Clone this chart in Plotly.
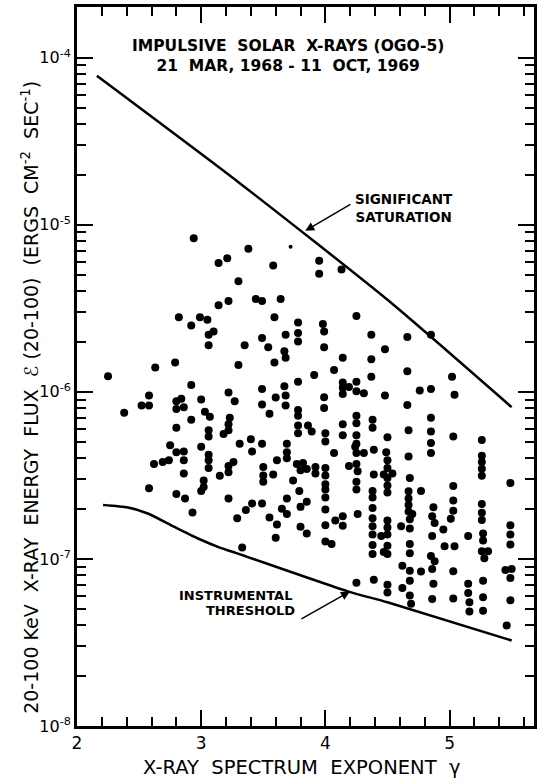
import plotly.graph_objects as go

# ---- data ----
gamma = [
    2.94, 3.14, 3.21, 3.30, 3.14, 3.22, 2.82, 2.92, 2.99, 3.05, 3.10, 3.06, 3.06, 2.79, 2.63, 2.25,
    3.30, 2.92, 2.58, 2.52, 2.58, 2.38, 2.80, 2.84, 2.80, 2.86, 3.00, 3.22, 3.27, 3.03, 3.07, 2.92,
    3.23, 3.22, 3.22, 2.80, 3.06, 3.06, 3.18, 2.75, 3.00, 2.80, 2.86, 2.86, 3.06, 3.06, 3.06, 2.62,
    2.69, 2.74, 3.22, 3.26, 3.22, 2.86, 3.15, 3.02, 3.02, 3.00, 2.58, 2.80, 2.87, 3.22, 2.93, 3.29,
    3.31, 3.38, 3.58, 3.95, 3.95, 4.13, 3.44, 3.49, 3.64, 3.59, 3.78, 3.98, 3.99, 4.25, 3.78, 3.78,
    3.68, 3.49, 3.54, 3.35, 3.67, 3.68, 3.99, 4.37, 4.48, 4.14, 4.37, 3.59, 4.07, 3.91, 4.37, 3.78,
    4.14, 4.19, 4.25, 4.14, 4.14, 4.25, 4.31, 3.67, 3.49, 3.60, 3.68, 3.68, 3.99, 3.99, 3.49, 3.55,
    3.78, 3.78, 4.48, 4.25, 4.38, 4.25, 4.38, 4.14, 3.78, 3.78, 3.86, 3.89, 4.00, 4.00, 4.14, 4.25,
    4.25, 4.24, 4.25, 4.31, 3.40, 3.41, 3.49, 3.69, 3.69, 3.69, 4.07, 4.39, 3.61, 3.50, 3.50, 3.50,
    3.58, 3.77, 3.82, 3.80, 3.85, 3.92, 3.92, 4.00, 4.00, 4.00, 4.00, 4.00, 3.74, 4.19, 4.25, 4.26,
    4.25, 4.25, 4.39, 3.79, 3.69, 3.85, 3.80, 3.49, 3.41, 3.36, 3.65, 3.69, 3.55, 3.61, 4.00, 4.38,
    4.38, 4.38, 4.26, 4.08, 4.14, 4.14, 4.00, 3.80, 3.85, 3.60, 4.00, 4.05, 3.33, 4.38, 4.38, 4.38,
    4.38, 4.38, 4.25, 4.39, 4.50, 4.49, 4.50, 4.50, 4.47, 4.54, 4.50, 4.50, 4.50, 4.50, 4.50, 4.50,
    4.45, 4.50, 4.47, 4.50, 4.50, 4.50, 4.62, 4.61, 4.62, 4.67, 4.67, 4.68, 4.67, 4.67, 4.67, 4.67,
    4.70, 4.68, 4.68, 4.68, 4.68, 4.68, 4.68, 4.68, 4.69, 4.77, 4.77, 4.85, 4.85, 4.85, 4.85, 4.87,
    4.86, 4.88, 4.86, 4.85, 4.88, 4.86, 4.87, 4.86, 4.95, 4.96, 5.04, 5.03, 5.03, 5.03, 5.03, 5.01,
    5.03, 5.03, 5.15, 5.15, 5.15, 5.16, 5.16, 5.26, 5.26, 5.26, 5.26, 5.26, 5.26, 5.26, 5.26, 5.27,
    5.27, 5.26, 5.31, 5.28, 5.27, 5.27, 5.27, 5.49, 5.49, 5.49, 5.49, 5.45, 5.50, 5.49, 5.49, 5.46,
    4.66, 4.85, 4.66, 5.02, 4.76, 4.85, 5.04, 4.66,
]
flux = [
    8.3e-6, 5.9e-6, 6.3e-6, 4.6e-6, 3.3e-6, 3.5e-6, 2.8e-6, 2.5e-6, 2.8e-6, 2.7e-6, 2.3e-6, 2.2e-6, 1.9e-6, 1.5e-6, 1.4e-6, 1.24e-6,
    1.45e-6, 1.1e-6, 9.5e-7, 8.3e-7, 8.3e-7, 7.5e-7, 8.8e-7, 9.1e-7, 7.9e-7, 8.1e-7, 9.0e-7, 9.9e-7, 8.8e-7, 7.6e-7, 7.1e-7, 6.8e-7,
    7.0e-7, 6.4e-7, 5.9e-7, 6.1e-7, 5.9e-7, 5.4e-7, 5.6e-7, 4.8e-7, 4.7e-7, 4.35e-7, 4.4e-7, 3.9e-7, 4.2e-7, 3.9e-7, 3.5e-7, 3.7e-7,
    3.8e-7, 3.9e-7, 3.6e-7, 3.8e-7, 3.3e-7, 3.25e-7, 3.15e-7, 2.95e-7, 2.7e-7, 2.55e-7, 2.65e-7, 2.45e-7, 2.3e-7, 2.3e-7, 1.9e-7, 1.75e-7,
    4.9e-7, 7.2e-6, 5.7e-6, 6.1e-6, 5.1e-6, 5.4e-6, 3.6e-6, 3.5e-6, 3.6e-6, 2.8e-6, 2.6e-6, 2.55e-6, 2.3e-6, 2.85e-6, 2.25e-6, 2.0e-6,
    2.2e-6, 2.1e-6, 1.85e-6, 1.9e-6, 1.75e-6, 1.6e-6, 1.85e-6, 2.2e-6, 1.8e-6, 1.6e-6, 1.57e-6, 1.5e-6, 1.35e-6, 1.26e-6, 1.23e-6, 1.15e-6,
    1.14e-6, 1.07e-6, 1.15e-6, 1.06e-6, 9.7e-7, 1.01e-6, 9.8e-7, 1.08e-6, 1.04e-6, 9.25e-7, 9.5e-7, 8.3e-7, 9.3e-7, 8.0e-7, 8.4e-7, 7.4e-7,
    7.8e-7, 7.2e-7, 9.5e-7, 7.2e-7, 6.8e-7, 6.5e-7, 6.1e-7, 6.4e-7, 6.3e-7, 5.65e-7, 6.3e-7, 5.8e-7, 5.65e-7, 5.05e-7, 5.5e-7, 5.5e-7,
    4.9e-7, 4.7e-7, 4.3e-7, 4.3e-7, 5.2e-7, 4.4e-7, 4.9e-7, 4.9e-7, 4.35e-7, 4.0e-7, 4.3e-7, 4.5e-7, 3.9e-7, 3.55e-7, 3.16e-7, 2.9e-7,
    3.2e-7, 3.7e-7, 3.75e-7, 3.4e-7, 3.45e-7, 3.55e-7, 3.25e-7, 3.5e-7, 3.16e-7, 2.8e-7, 2.6e-7, 2.33e-7, 2.95e-7, 3.6e-7, 3.7e-7, 3.35e-7,
    2.9e-7, 2.6e-7, 3.2e-7, 2.55e-7, 2.3e-7, 2.2e-7, 2.05e-7, 2.15e-7, 2.15e-7, 1.96e-7, 2.0e-7, 1.86e-7, 1.77e-7, 1.61e-7, 1.98e-7, 2.55e-7,
    2.33e-7, 2.02e-7, 1.86e-7, 1.7e-7, 1.8e-7, 1.58e-7, 1.59e-7, 1.56e-7, 1.42e-7, 1.34e-7, 1.27e-7, 1.23e-7, 1.17e-7, 1.75e-7, 1.57e-7, 1.4e-7,
    1.21e-7, 1.07e-7, 7.2e-8, 7.5e-8, 5.35e-7, 4.35e-7, 3.9e-7, 3.5e-7, 3.2e-7, 3.25e-7, 3.05e-7, 2.75e-7, 2.5e-7, 1.7e-7, 1.54e-7, 1.4e-7,
    1.37e-7, 1.2e-7, 1.1e-7, 1.07e-7, 7.0e-8, 6.3e-8, 9.1e-8, 1.57e-7, 6.7e-8, 5.9e-7, 4.1e-7, 3.05e-7, 2.54e-7, 2.3e-7, 2.1e-7, 1.92e-7,
    1.86e-7, 1.73e-7, 1.52e-7, 1.23e-7, 1.08e-7, 8.5e-8, 7.4e-8, 6.05e-8, 5.4e-8, 2.55e-7, 8.4e-8, 7.0e-7, 5.8e-7, 4.95e-7, 4.3e-7, 2.04e-7,
    1.8e-7, 1.64e-7, 1.37e-7, 1.04e-7, 9.7e-8, 8.7e-8, 7.1e-8, 5.75e-8, 1.5e-7, 1.19e-7, 1.19e-7, 5.4e-7, 2.73e-7, 2.24e-7, 1.94e-7, 1.74e-7,
    8.45e-8, 5.8e-8, 1.37e-7, 7.1e-8, 6.25e-8, 5.5e-8, 4.85e-8, 5.15e-7, 4.15e-7, 3.8e-7, 3.47e-7, 3.15e-7, 2.13e-7, 1.89e-7, 1.71e-7, 1.42e-7,
    1.29e-7, 1.11e-7, 1.11e-7, 1.01e-7, 7.4e-8, 5.9e-8, 4.9e-8, 2.85e-7, 1.59e-7, 1.4e-7, 1.22e-7, 8.6e-8, 8.7e-8, 7.7e-8, 5.65e-8, 4.0e-8,
    2.13e-6, 2.2e-6, 1.33e-6, 1.23e-6, 1.02e-6, 1.04e-6, 9.6e-7, 8.35e-7,
]

small_gamma = [3.72]
small_flux = [7.4e-6]

sat_gamma = [2.16, 3.30, 4.50, 5.50]
sat_flux = [7.8e-5, 1.8e-5, 3.56e-6, 8.1e-7]

thr_gamma = [2.21, 2.41, 2.57, 2.78, 2.97, 3.15, 3.29, 4.18, 4.50, 5.50]
thr_flux = [2.10e-7, 2.03e-7, 1.87e-7, 1.56e-7, 1.33e-7, 1.17e-7, 1.08e-7, 6.4e-8, 5.5e-8, 3.25e-8]

x_ticks = [2, 3, 4, 5]
y_ticks = [1e-8, 1e-7, 1e-6, 1e-5, 1e-4]
y_ticktext = ["10<sup>-8</sup>", "10<sup>-7</sup>", "10<sup>-6</sup>", "10<sup>-5</sup>", "10<sup>-4</sup>"]

FONT = "DejaVu Sans"

fig = go.Figure()
fig.add_trace(go.Scatter(x=sat_gamma, y=sat_flux, mode="lines",
                         line=dict(color="black", width=2.5, shape="spline", smoothing=0.6),
                         showlegend=False, hoverinfo="skip"))
fig.add_trace(go.Scatter(x=thr_gamma, y=thr_flux, mode="lines",
                         line=dict(color="black", width=2.5, shape="spline", smoothing=0.6),
                         showlegend=False, hoverinfo="skip"))
fig.add_trace(go.Scatter(x=gamma, y=flux, mode="markers",
                         marker=dict(color="black", size=8, line=dict(width=0)),
                         showlegend=False))
fig.add_trace(go.Scatter(x=small_gamma, y=small_flux, mode="markers",
                         marker=dict(color="black", size=4, line=dict(width=0)),
                         showlegend=False))

fig.update_layout(
    width=541, height=782,
    margin=dict(l=77, r=4, t=4, b=56),
    paper_bgcolor="white", plot_bgcolor="white",
    font=dict(family=FONT, color="black"),
    xaxis=dict(
        range=[2, 5.68], showgrid=False, zeroline=False,
        showline=True, linewidth=3, linecolor="black", mirror="allticks",
        ticks="inside", ticklen=16, tickwidth=2, tickcolor="black",
        tickmode="array", tickvals=x_ticks, ticktext=[str(v) for v in x_ticks],
        tickfont=dict(size=17, family=FONT),
        minor=dict(ticks="inside", dtick=0.2, ticklen=9, tickwidth=1.5, tickcolor="black", showgrid=False),
    ),
    yaxis=dict(
        type="log", range=[-8, -3.696], showgrid=False, zeroline=False,
        showline=True, linewidth=3, linecolor="black", mirror="allticks",
        ticks="inside", ticklen=16, tickwidth=2, tickcolor="black",
        tickmode="array", tickvals=y_ticks, ticktext=y_ticktext,
        tickfont=dict(size=16, family=FONT),
        minor=dict(ticks="inside", dtick="D1", ticklen=9,
                   tickwidth=1.5, tickcolor="black", showgrid=False),
    ),
)

anns = [
    dict(x=3.70, y=-3.99, text="<b>IMPULSIVE  SOLAR  X-RAYS (OGO-5)<br>21  MAR, 1968 - 11  OCT, 1969</b>", size=15.5),
    dict(x=4.63, y=-4.90, text="<b>SIGNIFICANT<br>SATURATION</b>", size=13.5),
    dict(x=3.28, y=-7.22, text="<b>INSTRUMENTAL</b>", size=13),
    dict(x=3.40, y=-7.31, text="<b>THRESHOLD</b>", size=13),
]
for a in anns:
    fig.add_annotation(xref="x", yref="y", showarrow=False, xanchor="center", yanchor="middle",
                       font=dict(family=FONT, color="black", size=a["size"]),
                       x=a["x"], y=a["y"], text=a["text"])

# arrows
fig.add_annotation(x=3.838, y=-5.036, xref="x", yref="y", text="", showarrow=True,
                   ax=46.6, ay=-27.3, arrowhead=2, arrowsize=1.2, arrowwidth=1.5, arrowcolor="black")
fig.add_annotation(x=4.198, y=-7.195, xref="x", yref="y", text="", showarrow=True,
                   ax=-50, ay=28.3, arrowhead=2, arrowsize=1.2, arrowwidth=1.5, arrowcolor="black")

# axis titles
fig.add_annotation(xref="paper", yref="paper", x=-0.102, y=0.457, textangle=-90, showarrow=False,
                   xanchor="center", yanchor="middle",
                   text="20-100 KeV  X-RAY  ENERGY  FLUX  \u2130 (20-100)  (ERGS  CM<sup>-2</sup>  SEC<sup>-1</sup>)",
                   font=dict(family=FONT, size=19, color="black"))
fig.add_annotation(xref="paper", yref="paper", x=0.4902, y=-0.058, showarrow=False,
                   xanchor="center", yanchor="middle",
                   text="X-RAY  SPECTRUM  EXPONENT  \u03b3",
                   font=dict(family=FONT, size=19.5, color="black"))

fig.write_html("out.html")
